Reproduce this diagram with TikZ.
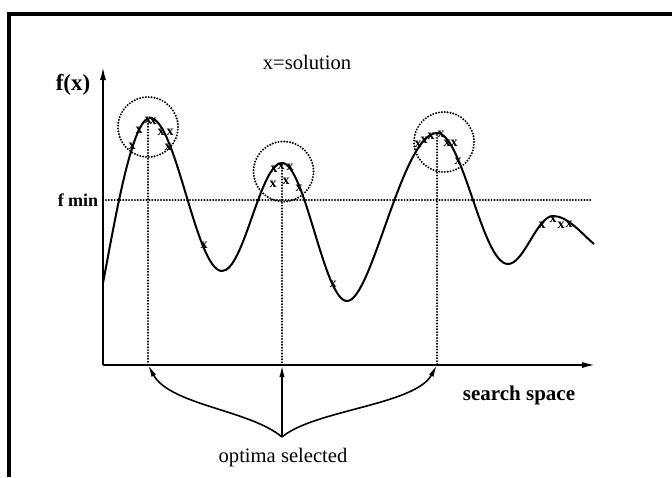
\documentclass[tikz,border=0pt]{standalone}
\usepackage{fontspec}
\setmainfont{Liberation Serif}
\usetikzlibrary{arrows.meta, positioning}

\begin{document}
\begin{tikzpicture}[
x=0.5pt, y=-0.5pt,
txt/.style={font=\fontsize{10.3}{12}\selectfont, inner sep=0pt},
boldtxt/.style={font=\fontsize{10.5}{12}\selectfont\bfseries, inner sep=0pt},
sol/.style={font=\fontsize{7}{8}\selectfont\bfseries, inner sep=0pt},
axis/.style={line width=1pt, -{Latex[length=7pt, width=3pt]}},
arrow/.style={line width=0.8pt, -{Latex[length=6pt, width=2.6pt]}},
dots/.style={line width=1.1pt, line cap=round, dash pattern=on 0pt off 1.45pt},
curve/.style={line width=1pt},
frame/.style={line width=1.6pt}
]
\useasboundingbox (0,0) rectangle (672,477);

% Frame
\coordinate (fbl) at (9,477);
\coordinate (ftl) at (9,14);
\coordinate (ftr) at (672,14);
\draw[frame] (fbl) -- (ftl) -- (ftr);

% Axes
\coordinate (o) at (103,365);
\coordinate (ytop) at (103,66);
\coordinate (xend) at (596,365);
\draw[axis] (o) -- (ytop);
\draw[axis] (o) -- (xend);

% Labels
\node[txt] (title) at (307,62) {x=solution};
\node[boldtxt, font=\fontsize{11.5}{13}\selectfont\bfseries] (fx) at (73,85) {f(x)};
\node[boldtxt, font=\fontsize{9}{11}\selectfont\bfseries] (fmin) at (78,200) {f min};
\node[boldtxt] (space) at (519,395) {search space};

% fmin level
\coordinate (fminL) at (103,200);
\coordinate (fminR) at (592,200);
\draw[dots] (fminL) -- (fminR);

% Fitness curve
\draw[curve] (103,283) .. controls (115,220) and (132,118) .. (150,118)
  .. controls (176,118) and (196,271) .. (222,271)
  .. controls (244,271) and (260,163) .. (282,163)
  .. controls (305,163) and (324,301) .. (347,301)
  .. controls (372,301) and (402,133) .. (437,133)
  .. controls (463,133) and (482,264) .. (508,264)
  .. controls (524,264) and (537,216) .. (553,216)
  .. controls (568,216) and (582,234) .. (594,244);

% Optima and their neighbourhoods
\coordinate (p1) at (148,121);
\coordinate (p2) at (282,165);
\coordinate (p3) at (437,135);
\coordinate (a1) at (148,365);
\coordinate (a2) at (282,365);
\coordinate (a3) at (437,365);
\draw[dots] (148,127) circle[radius=15pt];
\draw[dots] (283.5,171.5) circle[radius=15pt];
\draw[dots] (444,142) circle[radius=15pt];
\draw[dots] (p1) -- (a1);
\draw[dots] (p2) -- (a2);
\draw[dots] (p3) -- (a3);

% Solutions
\foreach \px/\py in {132/146, 139/130, 148/120, 153/121, 161/132, 170/132, 168/147,
  204/245, 274/169, 273/184, 281/166, 290/167, 286/181, 299/188,
  333/284, 418/144, 424/140, 431/136, 441/134, 447/143, 454/143, 458/161,
  542/225, 553/219, 561/225, 569/224}
  \node[sol] at (\px,\py) {x};

% Selection
\coordinate (sel) at (282,437);
\node[txt] (optlab) at (283,458) {optima selected};
\draw[arrow] (sel) .. controls (250,410) and (170,405) .. (a1);
\draw[arrow] (sel) -- (a2);
\draw[arrow] (sel) .. controls (314,410) and (415,405) .. (a3);

\end{tikzpicture}
\end{document}
